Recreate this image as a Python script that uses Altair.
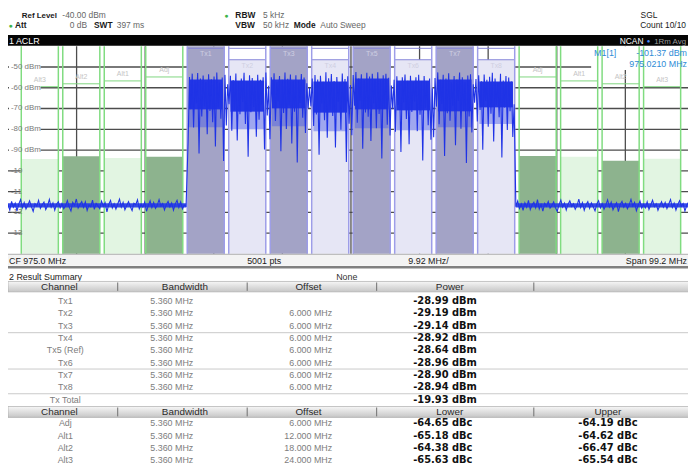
import altair as alt
import numpy as np
import pandas as pd

# ---------------- values ----------------
span_start, span_stop = 925.4, 1024.6          # CF 975.0 MHz, span 99.2 MHz
ref_level, bottom_level = -40.0, -140.0
grid_levels = [-50, -60, -70, -80, -90, -100, -110, -120, -130]
grid_labels = ["-50 dBm", "-60 dBm", "-70 dBm", "-80 dBm", "-90 dBm", "-10", "-11", "-12", "-13"]
div_freqs = [935.32, 945.24, 955.16, 965.08, 975.0, 984.92, 994.84, 1004.76, 1014.68]

tx_names = ["Tx1", "Tx2", "Tx3", "Tx4", "Tx5 (Ref)", "Tx6", "Tx7", "Tx8"]
tx_short = ["Tx1", "Tx2", "Tx3", "Tx4", "Tx5", "Tx6", "Tx7", "Tx8"]
tx_centers = [954.0, 960.0, 966.0, 972.0, 978.0, 984.0, 990.0, 996.0]
chan_bw = 5.36
tx_offsets = ["", "6.000 MHz", "6.000 MHz", "6.000 MHz", "6.000 MHz", "6.000 MHz", "6.000 MHz", "6.000 MHz"]
tx_power = [-28.99, -29.19, -29.14, -28.92, -28.64, -28.96, -28.90, -28.94]
tx_total = -19.93
ref_power = -28.64
adj_names = ["Adj", "Alt1", "Alt2", "Alt3"]
adj_offsets = [6.0, 12.0, 18.0, 24.0]
lower_dbc = [-64.65, -65.18, -64.38, -65.63]
upper_dbc = [-64.19, -64.62, -66.47, -65.54]
limit_levels = [-54.8, -56.7, -58.1, -59.5]
even_tx_top = -46.5

# solid and semi-dense parts of the Tx noise, thick part of the noise floor
tx_band_hi = [-56.0, -56.5, -56.0, -57.0, -55.5, -56.5, -56.0, -57.0]
tx_band_lo = [-70.5, -71.5, -70.0, -72.0, -70.5, -71.0, -71.5, -69.5]
tx_band_lo2 = [-79.0, -80.0, -78.5, -81.0, -79.5, -80.5, -79.0, -77.5]
noise_band = [-115.7, -117.7]

noise_left = [-116.2, -118.9, -114.7, -117.5, -115.6, -119.3, -116.0, -113.9, -117.8, -115.3,
              -118.4, -116.6, -114.5, -117.2, -119.6, -115.9, -117.0, -114.2, -118.1, -116.4,
              -115.1, -118.7, -116.8, -113.8, -117.6, -115.5, -119.0, -116.1, -114.9, -117.9,
              -115.8, -118.3, -116.9, -114.4, -117.4, -119.4, -115.2, -116.7, -113.6, -118.0,
              -116.3, -114.8, -117.7, -115.0, -119.1, -116.5, -117.3, -114.1, -118.6, -115.7,
              -116.9, -118.2, -114.6, -117.1, -115.4, -119.8, -116.2, -114.3, -117.9, -115.9,
              -118.5, -116.0, -113.7, -117.5, -115.2, -118.8, -116.7, -114.9, -117.2, -119.2,
              -115.6, -116.4, -114.0, -118.3, -116.1, -117.6, -115.1, -119.5, -116.8, -114.5,
              -117.8, -115.3, -118.1, -116.6, -113.9, -117.0, -115.8, -118.9, -116.3, -114.7,
              -117.4, -115.5, -119.0, -116.0, -114.2, -117.7, -115.0, -118.4, -116.5, -117.1]
tx_trace = [
    -86.0, -54.8, -70.3, -53.2, -79.1, -56.4, -67.5, -52.9, -91.7, -55.6, -73.8, -54.1, -68.9, -57.2, -82.4,
    -53.5, -71.2, -55.9, -76.6, -54.6, -88.3, -52.7, -69.4, -57.6, -74.9, -55.1, -95.3, -53.8, -78.2, -58.3,
    -67.9, -54.2, -80.7, -56.3, -70.6, -53.1, -85.4, -57.0, -72.7, -55.5, -66.8, -52.8, -77.5, -56.7, -93.2,
    -54.0, -71.8, -55.3, -69.2, -57.5, -83.6, -53.7, -75.4, -56.1, -68.1, -54.9, -89.7, -52.6, -73.3, -59.0,
    -84.8, -54.9, -69.7, -53.0, -76.0, -57.3, -66.5, -54.4, -90.6, -56.2, -72.2, -52.6, -79.9, -55.7, -68.4,
    -53.6, -86.9, -56.9, -71.5, -54.0, -96.0, -56.5, -67.3, -53.4, -74.5, -55.1, -81.8, -57.8, -70.0, -60.0,
    -69.0, -55.6, -78.4, -53.9, -72.9, -56.0, -92.3, -54.2, -67.6, -57.1, -75.7, -52.5, -84.1, -55.4, -70.8,
    -53.4, -73.6, -56.7, -88.8, -54.8, -66.9, -57.4, -80.2, -53.1, -71.4, -55.8, -95.8, -54.5, -77.3, -58.7,
    -82.9, -53.9, -68.6, -52.4, -76.9, -55.5, -66.2, -53.5, -89.4, -56.3, -71.9, -52.8, -74.0, -54.6, -85.7,
    -53.3, -67.4, -55.8, -79.5, -52.5, -72.6, -56.4, -94.1, -54.0, -69.9, -53.3, -77.8, -55.2, -83.0, -58.9,
    -70.4, -56.1, -81.2, -54.5, -68.3, -57.6, -91.0, -55.0, -67.0, -53.6, -75.1, -56.6, -87.2, -54.2, -71.7,
    -57.2, -66.6, -54.9, -80.9, -53.8, -73.0, -56.8, -95.0, -54.3, -69.6, -56.9, -78.0, -55.6, -85.0, -60.3,
    -83.8, -55.3, -69.1, -52.6, -77.6, -56.1, -67.8, -53.7, -92.9, -55.6, -72.3, -53.0, -75.9, -57.5, -68.7,
    -54.4, -87.7, -56.0, -66.4, -52.7, -79.8, -54.9, -71.1, -57.3, -96.2, -54.1, -73.9, -53.5, -81.5, -58.3,
    -67.2, -55.8, -76.3, -54.0, -70.7, -56.9, -89.9, -53.6, -66.3, -56.2, -78.8, -54.7, -72.5, -52.8, -85.9,
    -55.5, -68.2, -57.6, -74.2, -53.3, -93.6, -56.5, -69.5, -54.4, -80.4, -55.1, -71.3, -57.0, -83.7, -68.0]
noise_right = [-117.3, -114.6, -118.2, -116.0, -119.1, -115.4, -117.6, -114.3, -118.7, -116.5,
               -115.2, -117.9, -113.9, -118.4, -116.2, -119.4, -115.7, -117.1, -114.8, -118.0,
               -116.7, -115.0, -117.8, -119.6, -116.3, -114.1, -117.5, -115.6, -118.9, -116.1,
               -114.5, -117.2, -115.9, -118.6, -116.8, -113.7, -117.7, -115.3, -119.0, -116.4,
               -114.9, -118.1, -115.5, -117.3, -119.3, -116.0, -114.4, -117.9, -115.8, -118.5,
               -116.6, -114.0, -117.4, -115.1, -118.8, -116.9, -115.4, -119.7, -116.2, -114.7,
               -117.6, -115.7, -118.3, -116.5, -113.8, -117.0, -115.2, -119.2, -116.7, -114.6,
               -118.0, -116.1, -117.8, -115.0, -118.6, -116.4, -114.2, -117.3, -115.9, -119.0,
               -116.8, -114.9, -117.5, -115.3, -118.2, -116.0, -113.9, -117.7, -115.6, -118.9,
               -116.3, -114.4, -117.1, -115.8, -119.4, -116.6, -115.1, -118.1, -116.9, -117.4]

# ---------------- layout ----------------
W, HP = 688, 210
X_RANGE = 694
PAD_TOP, TOTAL_H = 36, 458
FONT = "Liberation Sans"
BFONT = "DejaVu Sans"


def PX(x):
    return x - 8


def PY(y):
    return y - 44


xs = alt.Scale(domain=[span_start, span_stop], range=[0, X_RANGE], nice=False, zero=False)
ys = alt.Scale(domain=[bottom_level, ref_level], nice=False, zero=False)


def XF(f):
    return alt.X(f"{f}:Q", scale=xs, axis=None)


def YF(f):
    return alt.Y(f"{f}:Q", scale=ys, axis=None)


one = pd.DataFrame({"k": [0]})


def txt(s, x, y, size=9, color="#000000", bold=False, align="left", font=FONT, baseline="alphabetic"):
    return alt.Chart(one).mark_text(text=s, align=align, baseline=baseline, fontSize=size, color=color,
                                    fontWeight="bold" if bold else "normal", font=font).encode(
        x=alt.value(PX(x)), y=alt.value(PY(y)))


def box(x0, y0, x1, y1, fill, stroke=None, sw=1.0):
    kw = {"stroke": stroke, "strokeWidth": sw} if stroke else {}
    return alt.Chart(one).mark_rect(fill=fill, **kw).encode(
        x=alt.value(PX(x0)), x2=alt.value(PX(x1)), y=alt.value(PY(y0)), y2=alt.value(PY(y1)))


def hline(x0, x1, y, color, sw=1.0):
    return alt.Chart(one).mark_rule(color=color, strokeWidth=sw).encode(
        x=alt.value(PX(x0)), x2=alt.value(PX(x1)), y=alt.value(PY(y)))


def vline(x, y0, y1, color, sw=1.0):
    return alt.Chart(one).mark_rule(color=color, strokeWidth=sw).encode(
        x=alt.value(PX(x)), y=alt.value(PY(y0)), y2=alt.value(PY(y1)))


# ---------------- tables for marks ----------------
grid_df = pd.DataFrame({"v": grid_levels, "lab": grid_labels})
div_df = pd.DataFrame({"f": div_freqs})

adj_rows = []
for i, n in enumerate(adj_names):
    for dbc, c in ((lower_dbc[i], tx_centers[0] - adj_offsets[i]), (upper_dbc[i], tx_centers[-1] + adj_offsets[i])):
        adj_rows.append(dict(name=n, lo=c - chan_bw / 2, hi=c + chan_bw / 2, mid=c, top=ref_power + dbc,
                             lim=limit_levels[i], shade="dark" if i % 2 == 0 else "light"))
adj_df = pd.DataFrame(adj_rows)

tx_df = pd.DataFrame({
    "name": tx_short,
    "lo": [c - chan_bw / 2 for c in tx_centers],
    "hi": [c + chan_bw / 2 for c in tx_centers],
    "blo": [c - chan_bw / 2 + 0.25 for c in tx_centers],
    "bhi": [c + chan_bw / 2 - 0.25 for c in tx_centers],
    "mid": tx_centers,
    "top": [ref_level if i % 2 == 0 else even_tx_top for i in range(8)],
    "cap": [ref_level - 1.0] * 8,
    "laby": [ref_level - 3.8 if i % 2 == 0 else even_tx_top - 3.0 for i in range(8)],
    "shade": ["dark" if i % 2 == 0 else "light" for i in range(8)],
    "band_hi": tx_band_hi, "band_lo": tx_band_lo, "band_lo2": tx_band_lo2,
})
even_df = tx_df[tx_df["shade"] == "light"]

tx_lo_edge = tx_centers[0] - chan_bw / 2
tx_hi_edge = tx_centers[-1] + chan_bw / 2
nb_df = pd.DataFrame({"a": [span_start, tx_hi_edge + 0.15], "b": [tx_lo_edge - 0.15, span_stop],
                      "t": [noise_band[0]] * 2, "u": [noise_band[1]] * 2})

adj_edges = pd.DataFrame({"f": list(adj_df["lo"]) + list(adj_df["hi"])})
tx_edges = pd.DataFrame({"f": list(tx_df["lo"]) + list(tx_df["hi"])})

freqs = np.concatenate([np.linspace(span_start, tx_lo_edge - 0.17, len(noise_left)),
                        np.linspace(tx_lo_edge + 0.13, tx_hi_edge - 0.08, len(tx_trace)),
                        np.linspace(tx_hi_edge + 0.17, span_stop, len(noise_right))])
trace_df = pd.DataFrame({"f": freqs, "v": noise_left + tx_trace + noise_right})

# ---------------- spectrum layers ----------------
layers = []
layers.append(alt.Chart(grid_df).mark_rule(color="#4d4d4d", strokeWidth=1.3).encode(
    y=YF("v"), x=alt.value(0), x2=alt.value(W)))
layers.append(alt.Chart(div_df).mark_rule(color="#4d4d4d", strokeWidth=1.3).encode(
    x=XF("f"), y=alt.value(0), y2=alt.value(HP)))
layers.append(alt.Chart(adj_df).mark_rect().encode(
    x=XF("lo"), x2="hi", y=YF("top"), y2=alt.Y2Datum(bottom_level),
    color=alt.Color("shade:N", scale=alt.Scale(domain=["dark", "light"], range=["#8db38e", "#e2f5e2"]), legend=None)))
layers.append(alt.Chart(tx_df).mark_rect().encode(
    x=XF("lo"), x2="hi", y=YF("top"), y2=alt.Y2Datum(bottom_level),
    color=alt.Color("shade:N", scale=alt.Scale(domain=["dark", "light"], range=["#a3a3c6", "#e6e6f5"]), legend=None)))
layers.append(alt.Chart(tx_df).mark_rule(color="#8585d8", strokeWidth=1).encode(x=XF("lo"), x2="hi", y=YF("cap")))
layers.append(alt.Chart(even_df).mark_rule(color="#8585d8", strokeWidth=1).encode(x=XF("lo"), x2="hi", y=YF("top")))
layers.append(box(598, 44, 700, 68, "#ffffff"))
layers.append(alt.Chart(adj_df).mark_rule(color="#7fd67f", strokeWidth=1).encode(x=XF("lo"), x2="hi", y=YF("lim")))
layers.append(alt.Chart(adj_df).mark_text(fontSize=7, color="#c4c4c4", font=FONT, baseline="bottom", dy=-4).encode(
    x=XF("mid"), y=YF("lim"), text="name:N"))
layers.append(alt.Chart(tx_df).mark_text(fontSize=7, color="#cfcfe2", font=FONT, baseline="middle").encode(
    x=XF("mid"), y=YF("laby"), text="name:N"))
layers.append(alt.Chart(grid_df.iloc[:5]).mark_rule(color="#ffffff", strokeWidth=9).encode(
    y=YF("v"), x=alt.value(1), x2=alt.value(33)))
layers.append(alt.Chart(adj_edges).mark_rule(color="#80dc80", strokeWidth=1.5).encode(
    x=XF("f"), y=alt.value(0), y2=alt.value(HP)))
layers.append(alt.Chart(tx_edges).mark_rule(color="#9d9de8", strokeWidth=1.5).encode(
    x=XF("f"), y=alt.value(0), y2=alt.value(HP)))
layers.append(alt.Chart(grid_df).mark_text(align="left", baseline="middle", fontSize=8, color="#7a7a7a", font=FONT).encode(
    x=alt.value(3), y=YF("v"), text="lab:N"))
# trace: dense parts first, then the sweep line itself
layers.append(alt.Chart(tx_df).mark_rect(color="#4a5ae8", opacity=0.45).encode(
    x=XF("blo"), x2="bhi", y=YF("band_lo"), y2="band_lo2"))
layers.append(alt.Chart(tx_df).mark_rect(color="#2437e6").encode(
    x=XF("blo"), x2="bhi", y=YF("band_hi"), y2="band_lo"))
layers.append(alt.Chart(nb_df).mark_rect(color="#2437e6", opacity=0.9).encode(
    x=XF("a"), x2="b", y=YF("t"), y2="u"))
layers.append(alt.Chart(trace_df).mark_line(color="#1f33e6", strokeWidth=1.1).encode(x=XF("f"), y=YF("v")))

# marker readout
MK = "#2e8bd6"
layers += [txt("M1[1]", 601, 54, 9, MK), txt("-101.37 dBm", 695, 54, 9, MK, align="right"),
           txt("975.0210 MHz", 695, 64.5, 9, MK, align="right")]

# ---------------- header ----------------
G = "#666666"
D = "#1a1a1a"
GREEN = "#3db34a"
layers += [
    txt("Ref Level", 22, 15, 8, D, True), txt("-40.00 dBm", 63, 15, 8.5, G),
    txt("\u25cf", 229, 15, 7, GREEN, align="center"), txt("RBW", 238, 15, 8.5, D, True), txt("5 kHz", 266, 15, 8.5, G),
    txt("SGL", 648, 15, 8.5, D),
    txt("\u25cf", 10.5, 26, 7, GREEN, align="center"), txt("Att", 15, 26, 8.5, D, True),
    txt("0 dB", 88, 26, 8.5, G, align="right"), txt("SWT", 95, 26, 8.5, D, True), txt("397 ms", 118, 26, 8.5, G),
    txt("VBW", 238, 26, 8.5, D, True), txt("50 kHz", 266, 26, 8.5, G),
    txt("Mode", 297, 26, 8.5, D, True), txt("Auto Sweep", 324, 26, 8.5, G),
    txt("Count 10/10", 694, 26, 8.5, D, align="right"),
    box(8, 32.5, 700, 43.5, "#050505"),
    txt("1 ACLR", 9, 41.5, 9, "#ffffff"),
    txt("NCAN", 651, 41.5, 8.5, "#ffffff", align="right"), txt("\u25cf", 656, 41, 6, "#4a8cff", align="center"),
    txt("1Rm Avg", 694, 41.5, 8, "#9a9a9a", align="right"),
]

# ---------------- footer of the diagram ----------------
layers += [
    box(8, 254.5, 700, 266, "#f3f3f3"),
    hline(8, 700, 254.5, "#9a9a9a", 0.8),
    txt("CF 975.0 MHz", 9, 264, 9, D), txt("5001 pts", 250, 264, 9, D),
    txt("9.92 MHz/", 413, 264, 9, D), txt("Span 99.2 MHz", 695, 264, 9, D, align="right"),
    hline(8, 700, 267.6, "#808080", 2.6),
    txt("2 Result Summary", 9, 280.5, 9, D), txt("None", 340, 280.5, 9, "#333333"),
]

# ---------------- result summary table ----------------
grad = alt.LinearGradient(gradient="linear",
                          stops=[alt.GradientStop(color="#f6f6f6", offset=0), alt.GradientStop(color="#c6c6c6", offset=1)],
                          x1=0, x2=0, y1=0, y2=1)
SEPS = [119, 250, 381, 540]
for (y0, y1, heads) in ((282, 292.5, [("Channel", 60), ("Bandwidth", 187), ("Offset", 312), ("Power", 455)]),
                        (408.5, 419.5, [("Channel", 60), ("Bandwidth", 187), ("Offset", 312), ("Lower", 455), ("Upper", 615)])):
    layers.append(alt.Chart(one).mark_rect(fill=grad, stroke="#a0a0a0", strokeWidth=0.6).encode(
        x=alt.value(PX(8)), x2=alt.value(PX(700)), y=alt.value(PY(y0)), y2=alt.value(PY(y1))))
    for sx in SEPS:
        layers.append(vline(sx, y0 + 1, y1 - 1, "#6d6d6d", 1))
    for h, cx in heads:
        layers.append(txt(h, cx, (y0 + y1) / 2 + 3.5, 10, "#2a2a2a", align="center"))

for yy in (333.8, 370.6, 395.6):
    layers.append(hline(8, 700, yy, "#c9c9c9", 1))

t1 = pd.DataFrame({
    "row": list(range(9)),
    "name": tx_names + ["Tx Total"],
    "bw": [f"{chan_bw:.3f} MHz"] * 8 + [""],
    "off": tx_offsets + [""],
    "pw": [f"{p:.2f} dBm" for p in tx_power + [tx_total]],
})
t2 = pd.DataFrame({
    "row": list(range(4)),
    "name": adj_names,
    "bw": [f"{chan_bw:.3f} MHz"] * 4,
    "off": [f"{o:.3f} MHz" for o in adj_offsets],
    "lo": [f"{v:.2f} dBc" for v in lower_dbc],
    "up": [f"{v:.2f} dBc" for v in upper_dbc],
})


def row_y(n, y0, y1):
    return alt.Y("row:Q", scale=alt.Scale(domain=[0, n - 1], range=[PY(y0), PY(y1)], nice=False, zero=False), axis=None)


ty1 = row_y(9, 301.7, 401.7)
ty2 = row_y(4, 425.7, 462.7)
GT = "#7d7d7d"
for df, ty in ((t1, ty1), (t2, ty2)):
    layers.append(alt.Chart(df).mark_text(align="center", baseline="middle", fontSize=9, color=GT, font=FONT).encode(
        x=alt.value(PX(66)), y=ty, text="name:N"))
    layers.append(alt.Chart(df).mark_text(align="left", baseline="middle", fontSize=9, color=GT, font=FONT).encode(
        x=alt.value(PX(152)), y=ty, text="bw:N"))
    layers.append(alt.Chart(df).mark_text(align="right", baseline="middle", fontSize=9, color=GT, font=FONT).encode(
        x=alt.value(PX(336)), y=ty, text="off:N"))
layers.append(alt.Chart(t1).mark_text(align="left", baseline="middle", fontSize=10, fontWeight="bold", color="#111111",
                                      font=BFONT).encode(x=alt.value(PX(418)), y=ty1, text="pw:N"))
layers.append(alt.Chart(t2).mark_text(align="left", baseline="middle", fontSize=10, fontWeight="bold", color="#111111",
                                      font=BFONT).encode(x=alt.value(PX(418)), y=ty2, text="lo:N"))
layers.append(alt.Chart(t2).mark_text(align="left", baseline="middle", fontSize=10, fontWeight="bold", color="#111111",
                                      font=BFONT).encode(x=alt.value(PX(585)), y=ty2, text="up:N"))

chart = alt.layer(*layers).properties(
    width=W, height=HP,
    autosize=alt.AutoSizeParams(type="none"),
    padding={"left": 0, "top": PAD_TOP, "right": 0, "bottom": TOTAL_H - PAD_TOP - HP},
    background="white",
).resolve_scale(x="independent", y="independent", color="independent").configure_view(stroke=None)

chart.save("out.html", embed_options={"renderer": "svg", "actions": False})
